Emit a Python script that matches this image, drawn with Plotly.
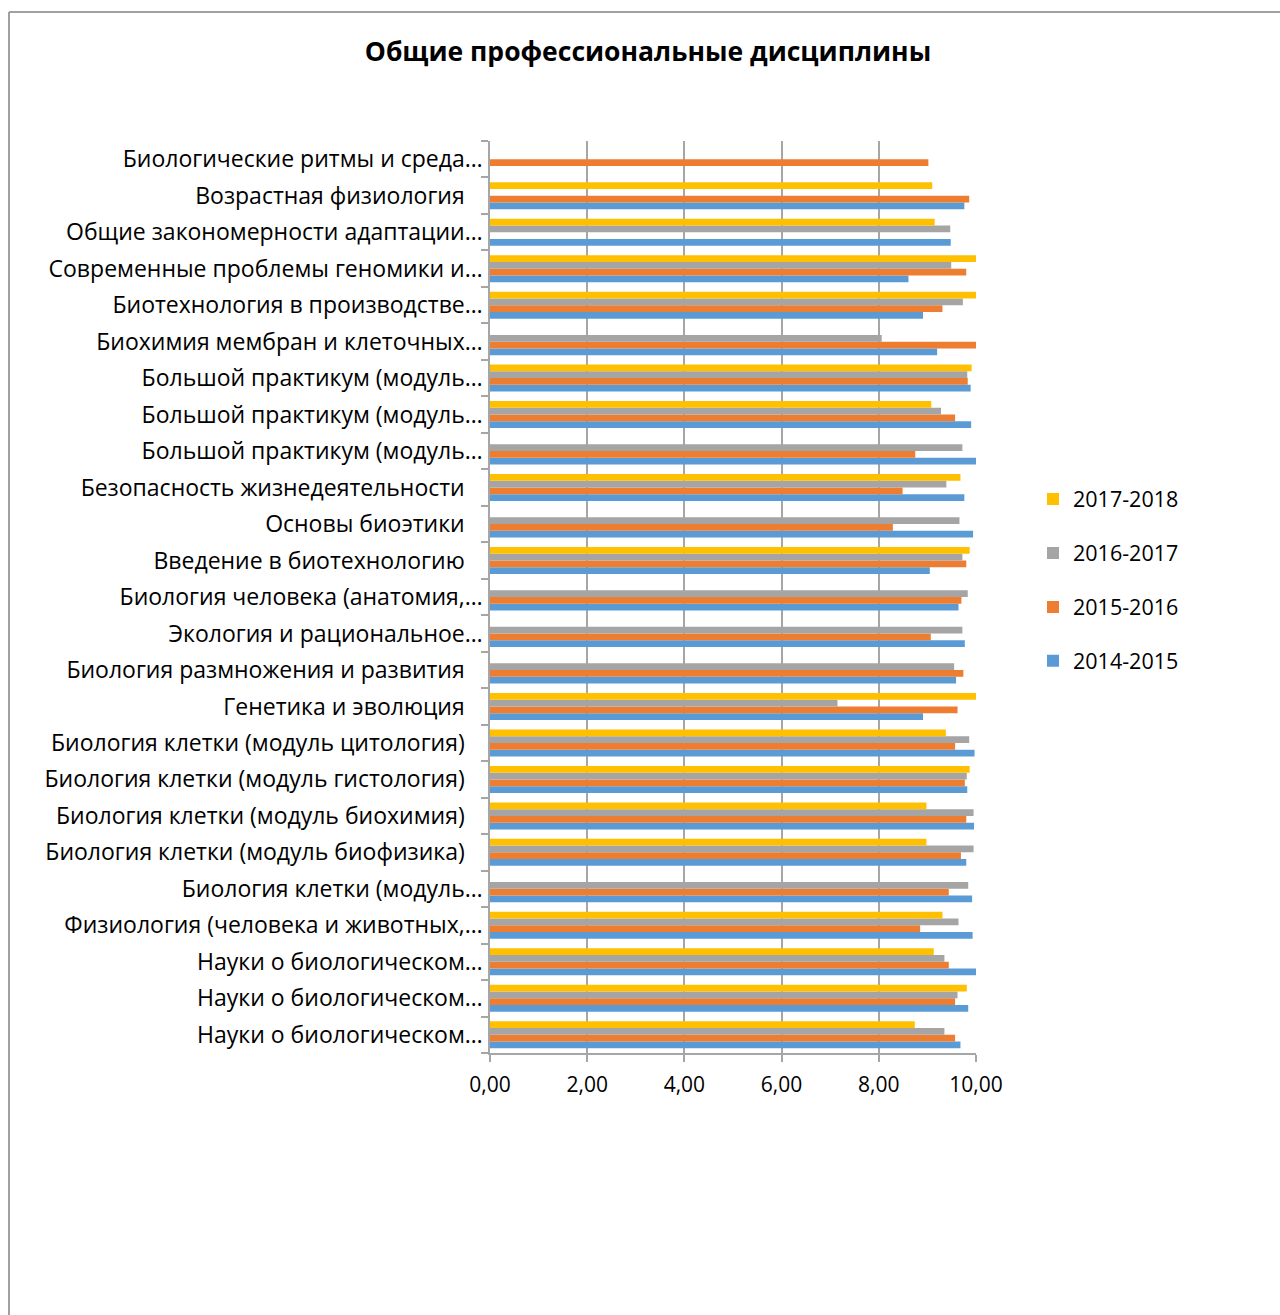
import plotly.graph_objects as go

# categories listed bottom-to-top (as Excel draws them)
categories = [
    "Науки о биологическом…",
    "Науки о биологическом…",
    "Науки о биологическом…",
    "Физиология (человека и животных,…",
    "Биология клетки (модуль…",
    "Биология клетки (модуль биофизика)",
    "Биология клетки (модуль биохимия)",
    "Биология клетки (модуль гистология)",
    "Биология клетки (модуль цитология)",
    "Генетика и эволюция",
    "Биология размножения и развития",
    "Экология и рациональное…",
    "Биология человека (анатомия,…",
    "Введение в биотехнологию",
    "Основы биоэтики",
    "Безопасность жизнедеятельности",
    "Большой практикум (модуль…",
    "Большой практикум (модуль…",
    "Большой практикум (модуль…",
    "Биохимия мембран и клеточных…",
    "Биотехнология в производстве…",
    "Современные проблемы геномики и…",
    "Общие закономерности адаптации…",
    "Возрастная физиология",
    "Биологические ритмы и среда…",
]

s2014_2015 = [9.68, 9.84, 10.0, 9.93, 9.92, 9.80, 9.96, 9.82, 9.97, 8.91, 9.59, 9.77, 9.64,
              9.05, 9.94, 9.76, 10.0, 9.90, 9.89, 9.20, 8.91, 8.61, 9.48, 9.76, None]
s2015_2016 = [9.57, 9.57, 9.44, 8.85, 9.44, 9.69, 9.80, 9.77, 9.57, 9.62, 9.74, 9.07, 9.70,
              9.80, 8.29, 8.49, 8.75, 9.57, 9.83, 10.0, 9.31, 9.80, None, 9.86, 9.02]
s2016_2017 = [9.35, 9.62, 9.35, 9.64, 9.84, 9.95, 9.95, 9.81, 9.86, 7.15, 9.55, 9.72, 9.83,
              9.72, 9.66, 9.39, 9.72, 9.28, 9.82, 8.06, 9.73, 9.49, 9.47, None, None]
s2017_2018 = [8.74, 9.81, 9.13, 9.31, None, 8.98, 8.98, 9.87, 9.38, 10.0, None, None, None,
              9.87, None, 9.68, None, 9.08, 9.91, None, 10.0, 10.0, 9.15, 9.10, None]

series = [
    ("2014-2015", s2014_2015, "#5B9BD5", 4),
    ("2015-2016", s2015_2016, "#ED7D31", 3),
    ("2016-2017", s2016_2017, "#A5A5A5", 2),
    ("2017-2018", s2017_2018, "#FFC000", 1),
]

x_ticks = [0, 2, 4, 6, 8, 10]

pos = list(range(len(categories)))
labels = [c if c.endswith("…") else c + "\u00a0\u00a0\u00a0" for c in categories]

fig = go.Figure()
for name, vals, color, rank in series:
    fig.add_trace(go.Bar(
        y=pos, x=vals, name=name, orientation="h",
        marker=dict(color=color, line=dict(width=0)),
        legendgroup=name, legendrank=rank,
    ))

FONT = "Open Sans, DejaVu Sans, sans-serif"
GRID = "#A6A6A6"

fig.update_layout(
    width=1280, height=1315,
    paper_bgcolor="white", plot_bgcolor="white",
    separators=", ",
    barmode="group", bargap=0.26, bargroupgap=0,
    margin=dict(l=490, r=304, t=141, b=262, autoexpand=False),
    font=dict(family=FONT, size=21, color="#000000"),
    title=dict(text="<b>Общие профессиональные дисциплины</b>",
               x=648/1280, xref="container", xanchor="center",
               y=1 - 52/1315, yref="container", yanchor="middle",
               font=dict(family=FONT, size=26.5, color="#000000")),
    legend=dict(
        x=1033/1280, xref="container", xanchor="left",
        y=1 - 580/1315, yref="container", yanchor="middle",
        traceorder="grouped", tracegroupgap=23,
        font=dict(family=FONT, size=21.5, color="#000000"),
        itemclick=False,
    ),
    xaxis=dict(
        range=[0, 10], tickvals=x_ticks, tickformat=".2f",
        showgrid=True, gridcolor=GRID, gridwidth=1.5,
        zeroline=False, showline=True, linecolor=GRID, linewidth=1.5,
        ticks="outside", ticklen=7, tickcolor=GRID, tickwidth=1.5,
        tickfont=dict(family=FONT, size=21, color="#000000"),
        ticklabelstandoff=5,
        fixedrange=True,
    ),
    yaxis=dict(
        range=[-0.5, len(categories) - 0.5],
        tickmode="array", tickvals=pos, ticktext=labels,
        ticks="", showgrid=False, zeroline=False,
        showline=True, linecolor=GRID, linewidth=1.5,
        minor=dict(tickmode="array", tickvals=[p - 0.5 for p in pos] + [len(pos) - 0.5],
                   ticks="outside", ticklen=7, tickcolor=GRID, tickwidth=1.5, showgrid=False),
        tickfont=dict(family=FONT, size=23, color="#000000"),
        ticklabelstandoff=1,
        fixedrange=True,
    ),
)

# chart-area border (left and top edges visible in the reference)
pw, ph = 1280 - 490 - 304, 1315 - 141 - 262
xl = (9 - 490) / pw
yt = (1315 - 262 - 12) / ph
fig.add_shape(type="line", xref="paper", yref="paper", x0=xl, x1=xl, y0=-0.5, y1=yt,
              line=dict(color="#A0A0A0", width=2))
fig.add_shape(type="line", xref="paper", yref="paper", x0=xl, x1=2.0, y0=yt, y1=yt,
              line=dict(color="#A0A0A0", width=2))

fig.write_html("out.html", config={"displayModeBar": False},
               post_script="document.body.style.margin='0';")
